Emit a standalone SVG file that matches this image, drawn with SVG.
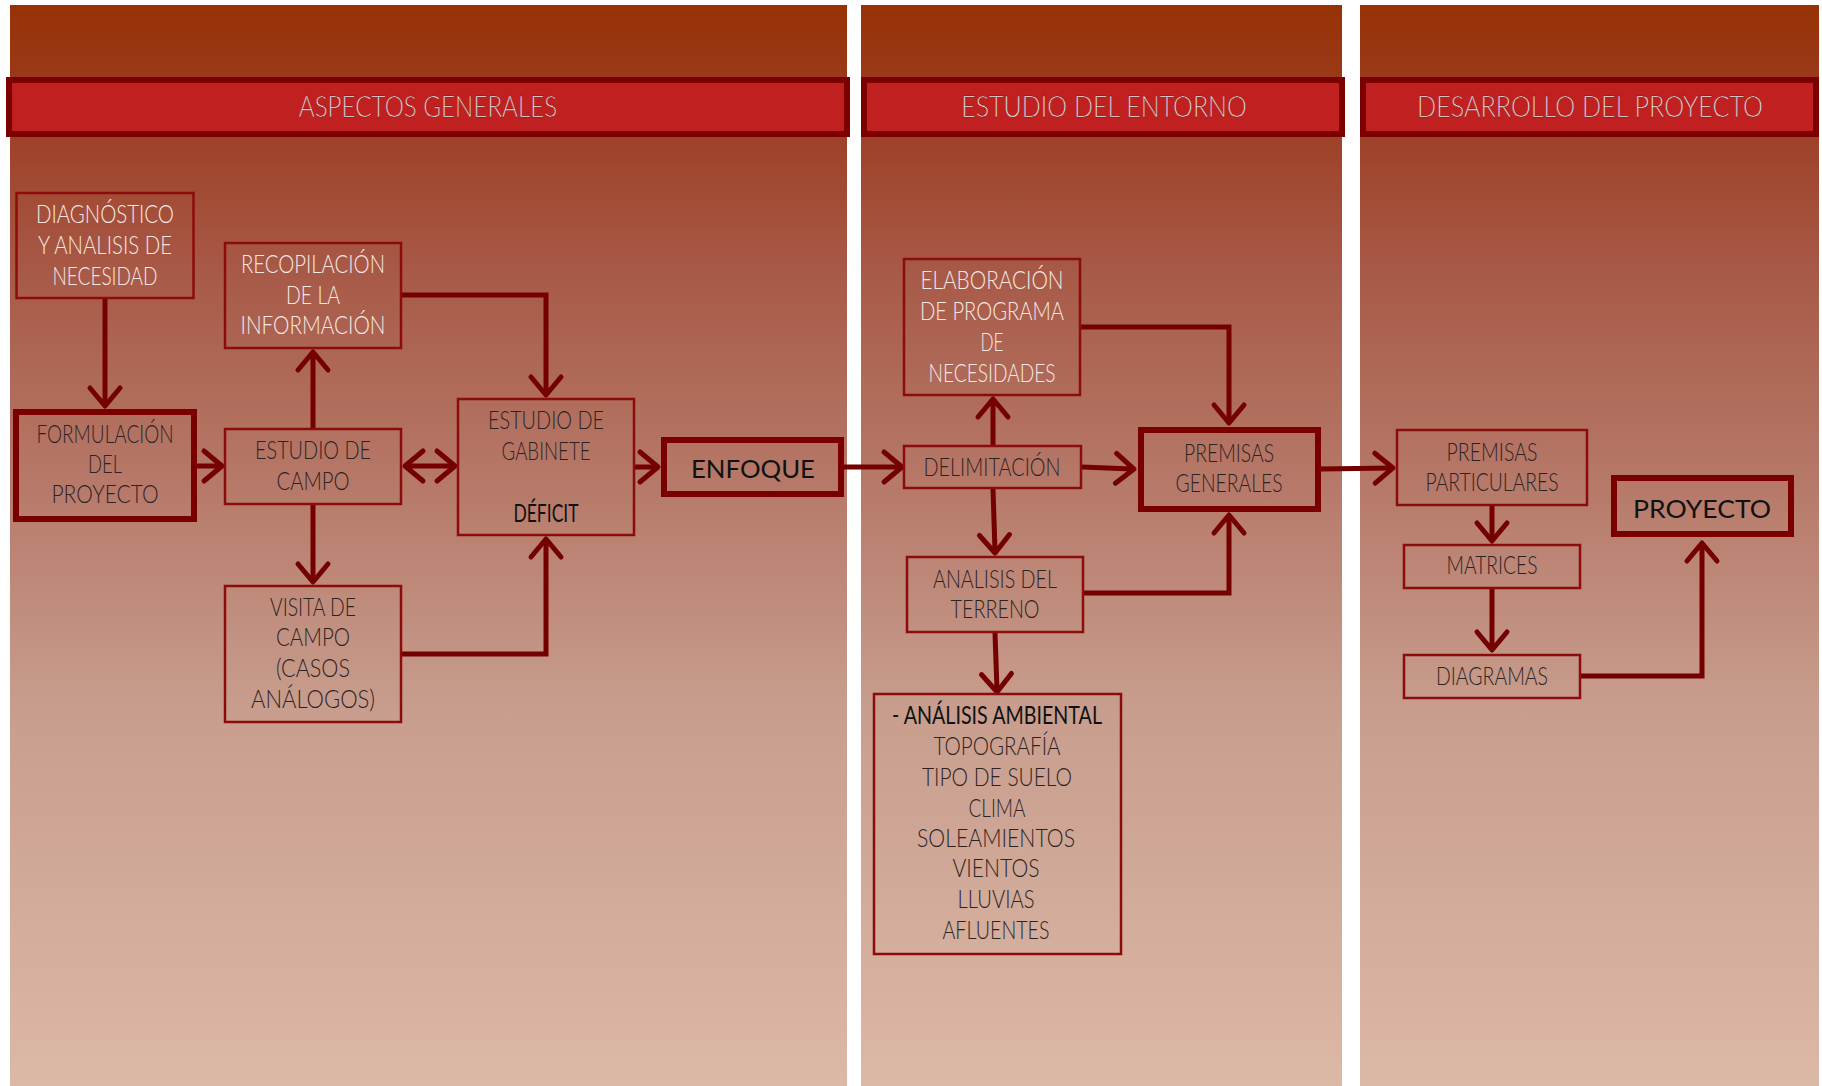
<svg xmlns="http://www.w3.org/2000/svg" width="1822" height="1086" viewBox="0 0 1822 1086">
<style>
.t{font-family:Lato,"Liberation Sans",sans-serif;font-weight:300;text-anchor:middle;font-size:25px}
.lt{fill:#f6e9e5}
.dk{fill:#2e2323}
.bk{fill:#111;font-weight:400}
.hd{fill:#fff;font-size:30px;stroke:#6a0000;stroke-width:0.4}
.box{fill:none;stroke:#8c0c0c;stroke-width:2.5}
.thick{fill:none;stroke:#7a0000;stroke-width:6}
.hdr{fill:#c0201f;stroke:#7d0000;stroke-width:6}
.con{fill:none;stroke:#740000;stroke-width:5;stroke-linejoin:miter}
</style>
<defs>
<linearGradient id="bg" gradientUnits="userSpaceOnUse" x1="0" y1="5" x2="0" y2="1086">
<stop offset="0" stop-color="#973205"/>
<stop offset="0.1" stop-color="#9c3d22"/>
<stop offset="0.25" stop-color="#a85a48"/>
<stop offset="0.45" stop-color="#b77a6a"/>
<stop offset="0.65" stop-color="#c89d8d"/>
<stop offset="1" stop-color="#dcb8a6"/>
</linearGradient>
<marker id="ah" viewBox="-22 -18 26 36" refX="-2" refY="0" markerWidth="26" markerHeight="36" markerUnits="userSpaceOnUse" orient="auto-start-reverse" overflow="visible">
<path d="M-18,-15 L0,0 L-18,15" fill="none" stroke="#740000" stroke-width="5" stroke-linejoin="round" stroke-linecap="round"/>
</marker>
</defs>
<rect width="1822" height="1086" fill="#fff"/>
<g id="panels">
<rect x="10" y="5" width="837" height="1081" fill="url(#bg)"/>
<rect x="861" y="5" width="481" height="1081" fill="url(#bg)"/>
<rect x="1360" y="5" width="459" height="1081" fill="url(#bg)"/>
</g>
<g id="headers">
<g id="h_aspectos"><rect class="hdr" x="9" y="80" width="838" height="54"/><text class="t hd" transform="translate(428,117) scale(0.85,1)" x="0" y="0" textLength="304" lengthAdjust="spacingAndGlyphs">ASPECTOS GENERALES</text></g>
<g id="h_entorno"><rect class="hdr" x="864" y="80" width="478" height="54"/><text class="t hd" transform="translate(1104,117) scale(0.85,1)" x="0" y="0" textLength="336" lengthAdjust="spacingAndGlyphs">ESTUDIO DEL ENTORNO</text></g>
<g id="h_desarrollo"><rect class="hdr" x="1363" y="80" width="453" height="54"/><text class="t hd" transform="translate(1590,117) scale(0.85,1)" x="0" y="0" textLength="407" lengthAdjust="spacingAndGlyphs">DESARROLLO DEL PROYECTO</text></g>
</g>
<g id="connectors">
<path class="con" marker-end="url(#ah)" d="M105,299 V404"/>
<path class="con" marker-end="url(#ah)" d="M197,466 H220"/>
<path class="con" marker-end="url(#ah)" d="M313,428 V354"/>
<path class="con" marker-end="url(#ah)" d="M313,505 V580"/>
<path class="con" marker-start="url(#ah)" marker-end="url(#ah)" d="M407,466 H453"/>
<path class="con" marker-end="url(#ah)" d="M402,295 H546 V393"/>
<path class="con" marker-end="url(#ah)" d="M402,654 H546 V541"/>
<path class="con" marker-end="url(#ah)" d="M635,467 H656"/>
<path class="con" marker-end="url(#ah)" d="M844,467 H900"/>
<path class="con" marker-end="url(#ah)" d="M1081,327 H1229 V421"/>
<path class="con" marker-end="url(#ah)" d="M993,445 V401"/>
<path class="con" marker-end="url(#ah)" d="M1082,467 L1132,469"/>
<path class="con" marker-end="url(#ah)" d="M993,489 L995,551"/>
<path class="con" marker-end="url(#ah)" d="M1084,593 H1229 V517"/>
<path class="con" marker-end="url(#ah)" d="M995,633 L997,690"/>
<path class="con" marker-end="url(#ah)" d="M1321,469 L1391,468"/>
<path class="con" marker-end="url(#ah)" d="M1492,506 V539"/>
<path class="con" marker-end="url(#ah)" d="M1492,589 V648"/>
<path class="con" marker-end="url(#ah)" d="M1581,676 H1702 V545"/>
</g>
<g id="n_diagnostico"><rect class="box" x="16.5" y="193" width="177" height="105"/>
<text class="t lt" x="105" y="223" textLength="138" lengthAdjust="spacingAndGlyphs">DIAGNÓSTICO</text>
<text class="t lt" x="105" y="254" textLength="134" lengthAdjust="spacingAndGlyphs">Y ANALISIS DE</text>
<text class="t lt" x="105" y="285" textLength="105" lengthAdjust="spacingAndGlyphs">NECESIDAD</text></g>
<g id="n_recopilacion"><rect class="box" x="225" y="243" width="176" height="105"/>
<text class="t lt" x="313" y="273" textLength="144" lengthAdjust="spacingAndGlyphs">RECOPILACIÓN</text>
<text class="t lt" x="313" y="304" textLength="54" lengthAdjust="spacingAndGlyphs">DE LA</text>
<text class="t lt" x="313" y="334" textLength="145" lengthAdjust="spacingAndGlyphs">INFORMACIÓN</text></g>
<g id="n_formulacion"><rect class="thick" x="16" y="412" width="178" height="107"/>
<text class="t dk" x="105" y="443" textLength="137" lengthAdjust="spacingAndGlyphs">FORMULACIÓN</text>
<text class="t dk" x="105" y="473" textLength="34" lengthAdjust="spacingAndGlyphs">DEL</text>
<text class="t dk" x="105" y="503" textLength="107" lengthAdjust="spacingAndGlyphs">PROYECTO</text></g>
<g id="n_estudio_campo"><rect class="box" x="225" y="429" width="176" height="75"/>
<text class="t dk" x="313" y="459" textLength="116" lengthAdjust="spacingAndGlyphs">ESTUDIO DE</text>
<text class="t dk" x="313" y="490" textLength="73" lengthAdjust="spacingAndGlyphs">CAMPO</text></g>
<g id="n_visita"><rect class="box" x="225" y="586" width="176" height="136"/>
<text class="t dk" x="313" y="616" textLength="86" lengthAdjust="spacingAndGlyphs">VISITA DE</text>
<text class="t dk" x="313" y="646" textLength="74" lengthAdjust="spacingAndGlyphs">CAMPO</text>
<text class="t dk" x="313" y="677" textLength="74" lengthAdjust="spacingAndGlyphs">(CASOS</text>
<text class="t dk" x="313" y="708" textLength="124" lengthAdjust="spacingAndGlyphs">ANÁLOGOS)</text></g>
<g id="n_gabinete"><rect class="box" x="458" y="399" width="176" height="136"/>
<text class="t dk" x="546" y="429" textLength="116" lengthAdjust="spacingAndGlyphs">ESTUDIO DE</text>
<text class="t dk" x="546" y="460" textLength="89" lengthAdjust="spacingAndGlyphs">GABINETE</text>
<text class="t bk" x="546" y="522" textLength="65" lengthAdjust="spacingAndGlyphs">DÉFICIT</text></g>
<g id="n_enfoque"><rect class="thick" x="664" y="440" width="177" height="54"/>
<text class="t bk" x="753" y="478" font-size="33" textLength="124" lengthAdjust="spacingAndGlyphs">ENFOQUE</text></g>
<g id="n_elaboracion"><rect class="box" x="904" y="259" width="176" height="136"/>
<text class="t lt" x="992" y="289" textLength="143" lengthAdjust="spacingAndGlyphs">ELABORACIÓN</text>
<text class="t lt" x="992" y="320" textLength="144" lengthAdjust="spacingAndGlyphs">DE PROGRAMA</text>
<text class="t lt" x="992" y="351" textLength="23" lengthAdjust="spacingAndGlyphs">DE</text>
<text class="t lt" x="992" y="382" textLength="127" lengthAdjust="spacingAndGlyphs">NECESIDADES</text></g>
<g id="n_delimitacion"><rect class="box" x="904" y="446" width="177" height="42"/>
<text class="t dk" x="992" y="476" textLength="137" lengthAdjust="spacingAndGlyphs">DELIMITACIÓN</text></g>
<g id="n_premisas_generales"><rect class="thick" x="1141" y="430" width="177" height="79"/>
<text class="t dk" x="1229" y="462" textLength="90" lengthAdjust="spacingAndGlyphs">PREMISAS</text>
<text class="t dk" x="1229" y="492" textLength="107" lengthAdjust="spacingAndGlyphs">GENERALES</text></g>
<g id="n_analisis_terreno"><rect class="box" x="907" y="557" width="176" height="75"/>
<text class="t dk" x="995" y="588" textLength="124" lengthAdjust="spacingAndGlyphs">ANALISIS DEL</text>
<text class="t dk" x="995" y="618" textLength="89" lengthAdjust="spacingAndGlyphs">TERRENO</text></g>
<g id="n_analisis_ambiental"><rect class="box" x="874" y="694" width="247" height="260"/>
<text class="t bk" x="997" y="724" textLength="210" lengthAdjust="spacingAndGlyphs">- ANÁLISIS AMBIENTAL</text>
<text class="t dk" x="997" y="755" textLength="127" lengthAdjust="spacingAndGlyphs">TOPOGRAFÍA</text>
<text class="t dk" x="997" y="786" textLength="150" lengthAdjust="spacingAndGlyphs">TIPO DE SUELO</text>
<text class="t dk" x="997" y="817" textLength="57" lengthAdjust="spacingAndGlyphs">CLIMA</text>
<text class="t dk" x="996" y="847" textLength="158" lengthAdjust="spacingAndGlyphs">SOLEAMIENTOS</text>
<text class="t dk" x="996" y="877" textLength="87" lengthAdjust="spacingAndGlyphs">VIENTOS</text>
<text class="t dk" x="996" y="908" textLength="77" lengthAdjust="spacingAndGlyphs">LLUVIAS</text>
<text class="t dk" x="996" y="939" textLength="107" lengthAdjust="spacingAndGlyphs">AFLUENTES</text></g>
<g id="n_premisas_particulares"><rect class="box" x="1397" y="430" width="190" height="75"/>
<text class="t dk" x="1492" y="461" textLength="91" lengthAdjust="spacingAndGlyphs">PREMISAS</text>
<text class="t dk" x="1492" y="491" textLength="133" lengthAdjust="spacingAndGlyphs">PARTICULARES</text></g>
<g id="n_matrices"><rect class="box" x="1404" y="545" width="176" height="43"/>
<text class="t dk" x="1492" y="574" textLength="91" lengthAdjust="spacingAndGlyphs">MATRICES</text></g>
<g id="n_diagramas"><rect class="box" x="1404" y="655" width="176" height="43"/>
<text class="t dk" x="1492" y="685" textLength="112" lengthAdjust="spacingAndGlyphs">DIAGRAMAS</text></g>
<g id="n_proyecto"><rect class="thick" x="1614" y="478" width="177" height="56"/>
<text class="t bk" x="1702" y="518" font-size="31" textLength="138" lengthAdjust="spacingAndGlyphs">PROYECTO</text></g>
</svg>
